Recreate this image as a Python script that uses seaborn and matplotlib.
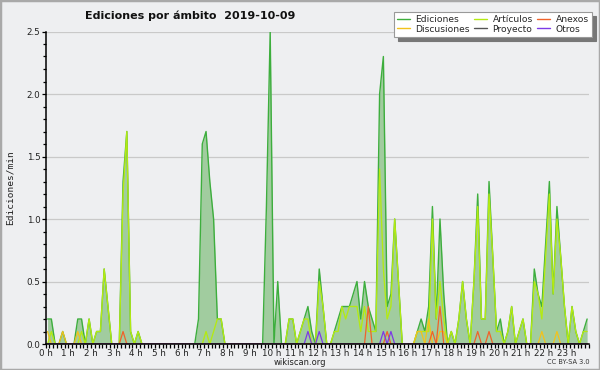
import numpy as np
import matplotlib
matplotlib.use("Agg")
import matplotlib.pyplot as plt
from matplotlib.patches import Rectangle
from matplotlib.ticker import MultipleLocator, FixedLocator
import seaborn as sns

# ---- data: edits per minute, 10-minute bins over 2019-10-09 ----
bin_minutes = list(range(0, 1440, 10))

ediciones = [
    0.2, 0.2, 0, 0, 0.1, 0, 0, 0, 0.2, 0.2, 0, 0.2,
    0, 0.1, 0.1, 0.6, 0.3, 0, 0, 0, 1.3, 1.7, 0.1, 0,
    0.1, 0, 0, 0, 0, 0, 0, 0, 0, 0, 0, 0,
    0, 0, 0, 0, 0.2, 1.6, 1.7, 1.3, 1.0, 0.2, 0.2, 0,
    0, 0, 0, 0, 0, 0, 0, 0, 0, 0, 1.1, 2.5,
    0, 0.5, 0, 0, 0.2, 0.2, 0, 0.1, 0.2, 0.3, 0.1, 0,
    0.6, 0.3, 0, 0, 0.1, 0.2, 0.3, 0.3, 0.3, 0.4, 0.5, 0.2,
    0.5, 0.3, 0.2, 0.1, 2.0, 2.3, 0.3, 0.4, 1.0, 0.5, 0, 0,
    0, 0, 0.1, 0.2, 0.1, 0.3, 1.1, 0.2, 1.0, 0.4, 0, 0.1,
    0, 0.2, 0.5, 0.2, 0, 0.5, 1.2, 0.2, 0.2, 1.3, 0.7, 0.1,
    0.2, 0, 0.1, 0.3, 0, 0.1, 0.2, 0, 0, 0.6, 0.4, 0.3,
    0.8, 1.3, 0.4, 1.1, 0.7, 0.3, 0, 0.3, 0.1, 0, 0.1, 0.2,
]

articulos = [
    0, 0.1, 0, 0, 0, 0, 0, 0, 0, 0.1, 0, 0.2,
    0, 0.1, 0.1, 0.6, 0.3, 0, 0, 0, 1.2, 1.7, 0.1, 0,
    0.1, 0, 0, 0, 0, 0, 0, 0, 0, 0, 0, 0,
    0, 0, 0, 0, 0, 0, 0.1, 0, 0.1, 0.2, 0.2, 0,
    0, 0, 0, 0, 0, 0, 0, 0, 0, 0, 0, 0,
    0, 0, 0, 0, 0.2, 0.2, 0, 0.1, 0.2, 0.2, 0, 0,
    0.5, 0.3, 0, 0, 0.1, 0.1, 0.3, 0.2, 0.3, 0.3, 0.3, 0.1,
    0.3, 0.1, 0.1, 0.1, 1.4, 0.6, 0.2, 0.3, 1.0, 0.5, 0, 0,
    0, 0, 0.1, 0.1, 0.1, 0.1, 1.0, 0.2, 0.5, 0.2, 0, 0.1,
    0, 0.2, 0.5, 0.2, 0, 0.5, 1.1, 0.2, 0.2, 1.2, 0.7, 0.1,
    0.1, 0, 0.1, 0.3, 0, 0.1, 0.2, 0, 0, 0.5, 0.4, 0.2,
    0.7, 1.2, 0.4, 1.0, 0.7, 0.3, 0, 0.3, 0.1, 0, 0.1, 0.1,
]

discusiones = [
    0.1, 0, 0, 0, 0.1, 0, 0, 0, 0.1, 0, 0, 0,
    0, 0, 0, 0, 0, 0, 0, 0, 0, 0, 0, 0,
    0, 0, 0, 0, 0, 0, 0, 0, 0, 0, 0, 0,
    0, 0, 0, 0, 0, 0, 0, 0, 0, 0, 0, 0,
    0, 0, 0, 0, 0, 0, 0, 0, 0, 0, 0, 0,
    0, 0, 0, 0, 0, 0, 0, 0, 0, 0, 0, 0,
    0, 0, 0, 0, 0, 0, 0, 0, 0, 0, 0, 0,
    0, 0, 0, 0, 0, 0, 0, 0, 0, 0, 0, 0,
    0, 0, 0.1, 0.1, 0, 0.2, 0, 0, 0.1, 0.1, 0, 0,
    0, 0, 0, 0, 0, 0, 0, 0, 0, 0, 0, 0,
    0, 0, 0, 0, 0, 0, 0, 0, 0, 0, 0, 0.1,
    0, 0, 0, 0.1, 0, 0, 0, 0, 0, 0, 0, 0,
]

anexos = [
    0, 0, 0, 0, 0, 0, 0, 0, 0, 0, 0, 0,
    0, 0, 0, 0, 0, 0, 0, 0, 0.1, 0, 0, 0,
    0, 0, 0, 0, 0, 0, 0, 0, 0, 0, 0, 0,
    0, 0, 0, 0, 0, 0, 0, 0, 0, 0, 0, 0,
    0, 0, 0, 0, 0, 0, 0, 0, 0, 0, 0, 0,
    0, 0, 0, 0, 0, 0, 0, 0, 0, 0, 0, 0,
    0, 0, 0, 0, 0, 0, 0, 0, 0, 0, 0, 0,
    0, 0.3, 0, 0, 0, 0, 0.1, 0, 0, 0, 0, 0,
    0, 0, 0, 0, 0, 0, 0.1, 0, 0.3, 0, 0, 0,
    0, 0, 0, 0, 0, 0, 0.1, 0, 0, 0.1, 0, 0,
    0, 0, 0, 0, 0, 0, 0, 0, 0, 0, 0, 0,
    0, 0, 0, 0, 0, 0, 0, 0, 0, 0, 0, 0,
]

proyecto = [
    0, 0, 0, 0, 0, 0, 0, 0, 0, 0, 0, 0,
    0, 0, 0, 0, 0, 0, 0, 0, 0, 0, 0, 0,
    0, 0, 0, 0, 0, 0, 0, 0, 0, 0, 0, 0,
    0, 0, 0, 0, 0, 0, 0, 0, 0, 0, 0, 0,
    0, 0, 0, 0, 0, 0, 0, 0, 0, 0, 0, 0,
    0, 0, 0, 0, 0, 0, 0, 0, 0, 0, 0, 0,
    0, 0, 0, 0, 0, 0, 0, 0, 0, 0, 0, 0,
    0, 0, 0, 0, 0, 0, 0, 0, 0, 0, 0, 0,
    0, 0, 0, 0, 0, 0, 0, 0, 0, 0, 0, 0,
    0, 0, 0, 0, 0, 0, 0, 0, 0, 0, 0, 0,
    0, 0, 0, 0, 0, 0, 0, 0, 0, 0, 0, 0,
    0, 0, 0, 0, 0, 0, 0, 0, 0, 0, 0, 0,
]

otros = [
    0, 0, 0, 0, 0, 0, 0, 0, 0, 0, 0, 0,
    0, 0, 0, 0, 0, 0, 0, 0, 0, 0, 0, 0,
    0, 0, 0, 0, 0, 0, 0, 0, 0, 0, 0, 0,
    0, 0, 0, 0, 0, 0, 0, 0, 0, 0, 0, 0,
    0, 0, 0, 0, 0, 0, 0, 0, 0, 0, 0, 0,
    0, 0, 0, 0, 0, 0, 0, 0, 0, 0.1, 0, 0,
    0.1, 0, 0, 0, 0, 0, 0, 0, 0, 0, 0, 0,
    0, 0, 0, 0, 0, 0.1, 0, 0.1, 0, 0, 0, 0,
    0, 0, 0, 0, 0, 0, 0, 0, 0, 0, 0, 0,
    0, 0, 0, 0, 0, 0, 0, 0, 0, 0, 0, 0,
    0, 0, 0, 0, 0, 0, 0, 0, 0, 0, 0, 0,
    0, 0, 0, 0, 0, 0, 0, 0, 0, 0, 0, 0,
]

hour_labels = [f"{h} h" for h in range(24)]
y_labels = ["0.0", "0.5", "1.0", "1.5", "2.0", "2.5"]

# ---- styling ----
sns.set_theme(style="white")
plt.rcParams["font.family"] = ["DejaVu Sans"]

BG = "#eeeff1"
C_ED = "#3dae3d"
C_FILL = "#a1cc9f"
C_ART = "#b4ea12"
C_ANE = "#f0622a"
C_DIS = "#f2c21c"
C_PRO = "#555555"
C_OTR = "#7d3ae6"

fig = plt.figure(figsize=(6, 3.7), dpi=100, facecolor=BG)
ax = fig.add_axes([45.7 / 600, 1 - 344 / 370, (589 - 45.7) / 600, (344 - 31.5) / 370])
ax.set_facecolor(BG)

x = np.array(bin_minutes) / 60 + 5 / 60

ax.fill_between(x, ediciones, 0, color=C_FILL, lw=0, zorder=2)
series = [
    ("Ediciones", ediciones, C_ED, 1.0),
    ("Artículos", articulos, C_ART, 0.95),
    ("Proyecto", proyecto, C_PRO, 0.9),
    ("Discusiones", discusiones, C_DIS, 0.9),
    ("Anexos", anexos, C_ANE, 0.9),
    ("Otros", otros, C_OTR, 0.9),
]
handles = {}
for i, (name, vals, col, lw) in enumerate(series):
    sns.lineplot(x=x, y=vals, ax=ax, color=col, lw=lw, zorder=3 + i, legend=False)
    handles[name] = plt.Line2D([], [], color=col, lw=1.0)

ax.set_xlim(0, 24)
ax.set_ylim(0, 2.5)

ax.yaxis.set_major_locator(FixedLocator([0, 0.5, 1.0, 1.5, 2.0, 2.5]))
ax.set_yticklabels(y_labels)
ax.yaxis.set_minor_locator(MultipleLocator(0.1))
ax.xaxis.set_major_locator(FixedLocator(list(range(24))))
ax.set_xticklabels(hour_labels)
ax.xaxis.set_minor_locator(MultipleLocator(1 / 6))

ax.tick_params(axis="both", which="both", direction="out", color="black", width=0.9,
               labelsize=6.3, labelcolor="#222222", pad=0.5)
ax.tick_params(axis="y", which="major", length=3.2)
ax.tick_params(axis="y", which="minor", length=2.3)
ax.tick_params(axis="x", which="major", length=3.2)
ax.tick_params(axis="x", which="minor", length=2.6)
ax.tick_params(left=True, bottom=True, which="both")
for lab in ax.get_xticklabels():
    lab.set_x(lab.get_position()[0])

ax.grid(axis="y", which="major", color="#c9c9c9", lw=0.9, zorder=1)
ax.set_axisbelow(True)
for s in ["top", "right"]:
    ax.spines[s].set_visible(False)
for s in ["left", "bottom"]:
    ax.spines[s].set_color("black")
    ax.spines[s].set_linewidth(1.1)
    ax.spines[s].set_zorder(20)
ax.set_xlabel("")
ax.set_ylabel("")

order = ["Ediciones", "Discusiones", "Artículos", "Proyecto", "Anexos", "Otros"]
leg = fig.legend([handles[n] for n in order], order, ncol=3,
                 loc="upper right", bbox_to_anchor=(592 / 600, 1 - 12 / 370),
                 fontsize=6.6, frameon=True, fancybox=False,
                 shadow={"color": "#777777", "alpha": 1.0, "ox": 3, "oy": -3},
                 handlelength=1.4, handletextpad=0.6, columnspacing=0.5,
                 labelspacing=0.05, borderpad=0.35, borderaxespad=0)
leg.get_frame().set_facecolor("white")
leg.get_frame().set_edgecolor("#999999")
leg.get_frame().set_linewidth(0.8)

fig.text(85 / 600, 1 - 16 / 370, "Ediciones por ámbito  2019-10-09",
         ha="left", va="center", fontsize=8.0, fontweight="bold", color="#111111")
fig.text(10 / 600, 1 - 188 / 370, "Ediciones/min", rotation=90, ha="center",
         va="center", fontsize=6.8, family="DejaVu Sans Mono", color="#222222")
fig.text(300 / 600, 1 - 362.5 / 370, "wikiscan.org", ha="center", va="center",
         fontsize=6.0, color="#222222")
fig.text(590 / 600, 1 - 362.5 / 370, "CC BY-SA 3.0", ha="right", va="center",
         fontsize=4.8, color="#333333")

fig.patches.append(Rectangle((0, 0), 1, 1, transform=fig.transFigure, fill=False,
                             edgecolor="#a9a9a9", lw=2.5, zorder=100))

fig.savefig("out.png", dpi=100, facecolor=BG)
